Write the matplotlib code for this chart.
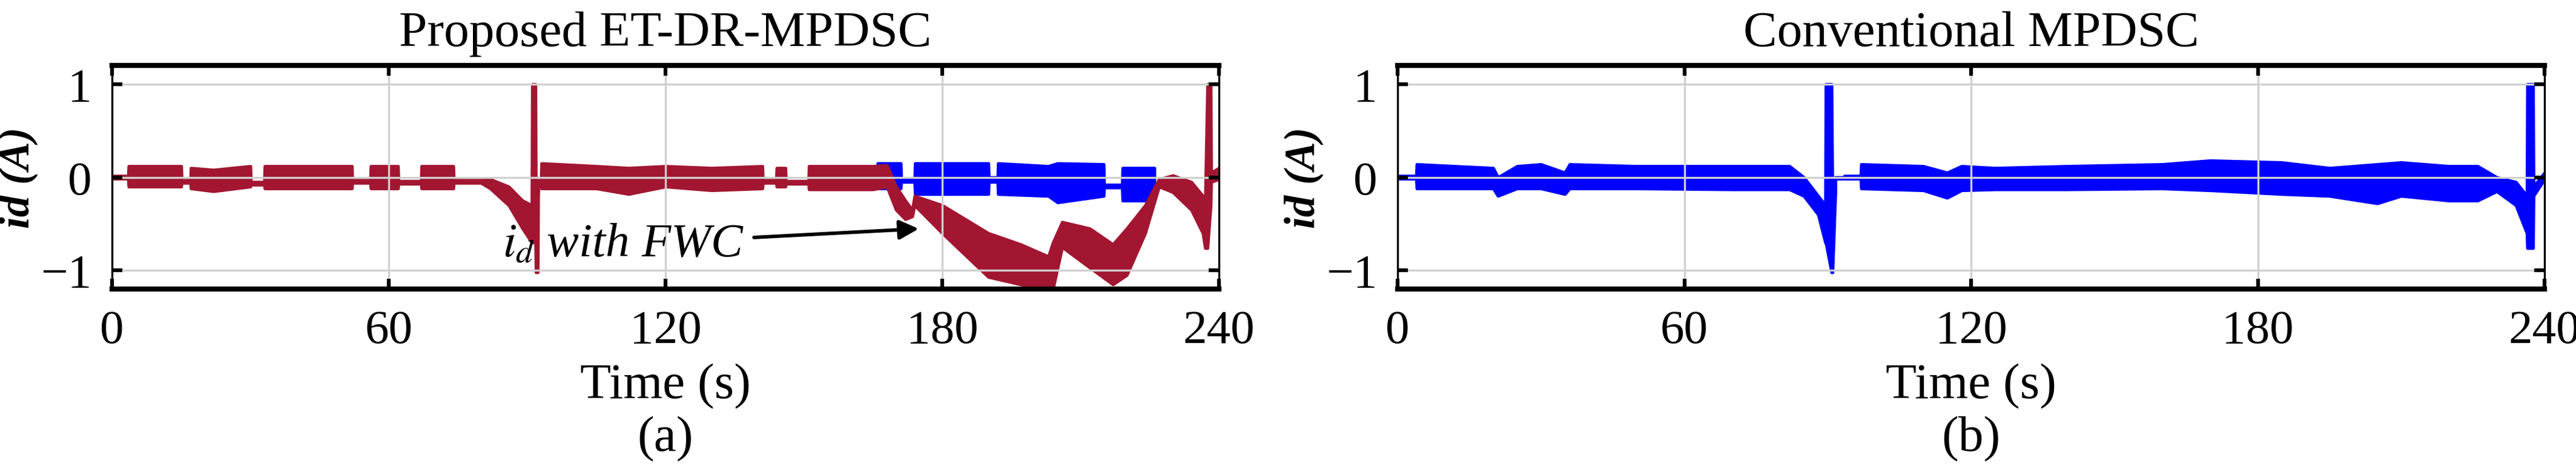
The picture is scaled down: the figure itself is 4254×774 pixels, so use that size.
import matplotlib.pyplot as plt

plt.rcParams['font.family'] = ['Liberation Serif', 'DejaVu Serif']
plt.rcParams['mathtext.fontset'] = 'stix'

# envelope of the ET-DR-MPDSC id trace (red), left panel
red_t = [0, 3.5, 3.6, 15, 15.1, 17, 17.1, 22, 30, 30.1, 33, 33.1, 45, 52, 52.1, 56, 56.1, 62, 62.1, 67,
         67.1, 74, 74.1, 80, 82, 86, 89, 91, 91.1, 91.8, 91.9, 92.3, 92.4, 93, 93.1, 105, 112, 120,
         130, 141, 141.1, 144, 144.1, 146, 146.1, 151, 151.1, 165, 168, 170, 172, 173.5, 174, 180,
         190, 197, 203, 204, 206, 212, 217, 220, 224, 227, 230, 234, 236.5, 237, 237.5, 238.2, 238.3, 240]
red_hi = [0.015, 0.015, 0.12, 0.12, -0.03, -0.03, 0.1, 0.08, 0.12, -0.05, -0.05, 0.12, 0.12, 0.12, -0.03,
          -0.03, 0.12, 0.12, -0.04, -0.04, 0.12, 0.12, -0.03, -0.03, -0.02, -0.1, -0.25, -0.3, 1.0, 1.0,
          -0.2, -0.2, -0.03, -0.03, 0.15, 0.12, 0.1, 0.12, 0.1, 0.12, -0.03, -0.03, 0.1, 0.1, -0.04, -0.04,
          0.12, 0.12, 0.13, -0.1, -0.25, -0.35, -0.2, -0.3, -0.6, -0.72, -0.85, -0.7, -0.48, -0.55, -0.72,
          -0.55, -0.3, -0.02, 0.02, -0.05, -0.2, -0.25, 1.0, 1.0, 0.05, 0.1]
red_lo = [-0.015, -0.015, -0.1, -0.1, -0.06, -0.06, -0.12, -0.15, -0.1, -0.08, -0.08, -0.12, -0.12, -0.12,
          -0.06, -0.06, -0.12, -0.12, -0.07, -0.07, -0.12, -0.12, -0.06, -0.06, -0.12, -0.3, -0.55, -0.7,
          -0.7, -0.7, -1.02, -1.02, -0.06, -0.06, -0.12, -0.12, -0.18, -0.1, -0.14, -0.12, -0.06, -0.06,
          -0.1, -0.1, -0.07, -0.07, -0.13, -0.13, -0.1, -0.35, -0.45, -0.42, -0.3, -0.6, -1.07, -1.15,
          -1.2, -1.2, -0.75, -0.97, -1.15, -1.05, -0.6, -0.1, -0.16, -0.35, -0.6, -0.76, -0.76, -0.3,
          -0.05, -0.02]

# conventional trace seen behind the red one in panel (a)
blue_a_t = [166, 171, 171.1, 174, 174.1, 190, 190.1, 192, 192.1, 203, 205, 215, 215.1, 219, 219.1, 226]
blue_a_hi = [0.15, 0.15, -0.02, -0.02, 0.15, 0.15, 0.0, 0.0, 0.15, 0.12, 0.15, 0.14, -0.08, -0.08, 0.1, 0.1]
blue_a_lo = [-0.12, -0.12, -0.05, -0.05, -0.18, -0.18, -0.05, -0.05, -0.18, -0.2, -0.27, -0.2, -0.11,
             -0.11, -0.25, -0.25]

# envelope of the conventional MPDSC id trace, right panel
blue_t = [0, 3.9, 4, 20, 21, 25, 30, 35, 36, 50, 70, 82, 85, 88, 89.5, 89.6, 90.8, 91, 91.5, 91.6,
          93.4, 93.5, 96.9, 97, 110, 115, 118, 125, 140, 160, 170, 185, 195, 205, 210, 220, 226, 230,
          234, 236.3, 236.4, 237.6, 237.7, 240]
blue_hi = [0.015, 0.015, 0.14, 0.1, 0.0, 0.12, 0.14, 0.05, 0.14, 0.12, 0.12, 0.12, 0.0, -0.2, -0.3, 1.0,
           1.0, -0.3, -0.3, 0.0, 0.0, 0.015, 0.015, 0.14, 0.12, 0.05, 0.12, 0.1, 0.12, 0.14, 0.18,
           0.16, 0.1, 0.14, 0.16, 0.12, 0.12, 0.0, -0.05, -0.2, 1.0, 1.0, -0.1, 0.05]
blue_lo = [-0.015, -0.015, -0.12, -0.12, -0.2, -0.12, -0.12, -0.18, -0.12, -0.12, -0.13, -0.13, -0.2,
           -0.4, -0.7, -0.7, -1.02, -1.02, -0.3, -0.015, -0.015, -0.015, -0.015, -0.12, -0.14, -0.22,
           -0.14, -0.13, -0.13, -0.12, -0.14, -0.18, -0.2, -0.28, -0.2, -0.25, -0.25, -0.15, -0.3,
           -0.6, -0.76, -0.76, -0.2, -0.02]

xticks = [0, 60, 120, 180, 240]
yticks = [-1, 0, 1]
RED = '#a31631'
BLUE = '#0000ff'

fig = plt.figure(figsize=(14.18, 2.583), dpi=300)
ax1 = fig.add_axes([185 / 4254, 1 - 478 / 775, (2013 - 185) / 4254, (478 - 109) / 775])
ax2 = fig.add_axes([2308 / 4254, 1 - 478 / 775, (4202 - 2308) / 4254, (478 - 109) / 775])

ax1.fill_between(blue_a_t, blue_a_lo, blue_a_hi, color=BLUE, lw=1.2)
ax1.fill_between(red_t, red_lo, red_hi, color=RED, lw=1.2)
ax2.fill_between(blue_t, blue_lo, blue_hi, color=BLUE, lw=1.2)

ax1.annotate(r'$i_d$ with FWC', xy=(176, -0.55), xytext=(137, -0.72),
             fontsize=19, style='italic', ha='right', va='center',
             arrowprops=dict(arrowstyle='-|>', color='black', lw=1.4, mutation_scale=16))

titles = ['Proposed ET-DR-MPDSC', 'Conventional MPDSC']
labels = ['(a)', '(b)']
for ax, title, lab in zip([ax1, ax2], titles, labels):
    ax.set_xlim(0, 240)
    ax.set_ylim(-1.2, 1.2)
    ax.set_xticks(xticks)
    ax.set_yticks(yticks)
    ax.grid(True, color='#d0d0d0', lw=0.8)
    ax.tick_params(labelsize=19, direction='in', width=1.5, length=4, top=True, right=True, pad=8)
    for side in ['top', 'bottom']:
        ax.spines[side].set_linewidth(2)
    for side in ['left', 'right']:
        ax.spines[side].set_linewidth(0.8)
    ax.set_title(title, fontsize=20, pad=8)
    ax.set_ylabel('id (A)', fontsize=17, style='italic', weight='bold', labelpad=1)
    ax.set_xlabel('Time (s)\n' + lab, fontsize=20, linespacing=1.2, labelpad=4)

fig.savefig('out.png', dpi=300)
